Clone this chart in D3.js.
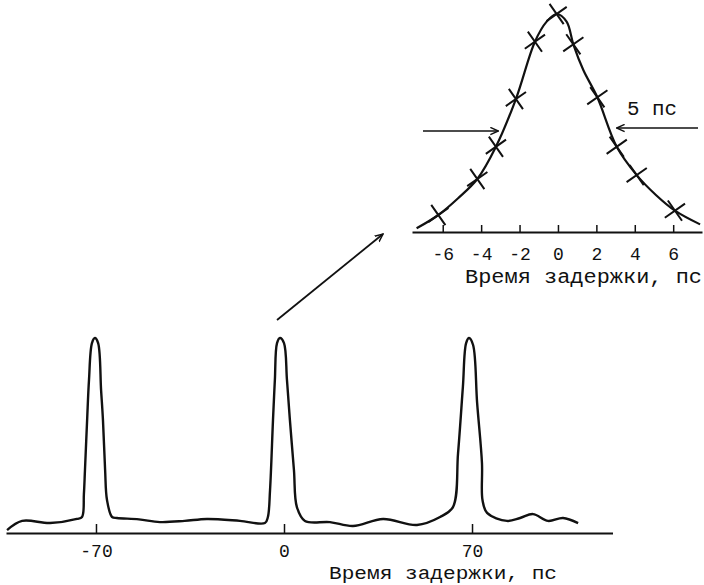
<!DOCTYPE html>
<html>
<head>
<meta charset="utf-8">
<script src="https://cdn.jsdelivr.net/npm/d3@7"></script>
<style>
  html, body { margin: 0; padding: 0; background: #fff; }
  svg { display: block; }
  text { font-family: "Liberation Mono", "DejaVu Sans Mono", monospace; fill: #111; }
</style>
</head>
<body>
<svg id="chart" width="704" height="585"></svg>
<script>
// ---------- Main trace (delay in ps, normalized signal) ----------
const mainT = [-103.1, -97.5, -87.1, -77.1, -75.2, -74.5, -74.1, -73.3, -72.6, -71.5, -70.4, -69.2, -68.1, -67.4, -66.6, -65.9, -64.0, -62.2,
  -54.0, -46.2, -37.0, -28.7, -16.4, -7.1, -6.0, -5.2, -4.1, -3.4, -2.6, -1.5, 0.0, 1.1, 2.2, 3.7, 4.8, 7.8,
  17.1, 25.7, 36.9, 49.5, 58.1, 62.9, 64.8, 66.6, 67.8, 68.9, 70.4, 71.9, 73.7, 73.9, 75.6, 83.0, 87.9, 92.7, 98.3, 103.9, 109.5];
const mainV = [0.015, 0.062, 0.051, 0.072, 0.082, 0.20, 0.323, 0.579, 0.785, 0.974, 1.0, 0.974, 0.733, 0.579, 0.323, 0.169, 0.082, 0.077,
  0.070, 0.056, 0.062, 0.072, 0.062, 0.051, 0.082, 0.22, 0.579, 0.785, 0.974, 1.0, 0.974, 0.785, 0.579, 0.323, 0.133, 0.062,
  0.056, 0.036, 0.072, 0.041, 0.082, 0.133, 0.41, 0.749, 0.974, 1.0, 0.964, 0.667, 0.359, 0.169, 0.103, 0.062, 0.077, 0.097, 0.062, 0.077, 0.051];
const mainTicks = [-70, 0, 70];
const mainTickLabels = ["-70", "0", "70"];

// ---------- Inset: peak detail ----------
const insetCurveT = [-7.36, -6.23, -5.2, -4.20, -3.23, -2.19, -1.20, -0.59, -0.07, 0.45, 0.80, 1.32, 2.05, 3.06, 4.10, 5.1, 6.09, 7.40];
const insetCurveV = [0.017, 0.078, 0.155, 0.243, 0.391, 0.610, 0.873, 0.965, 1.0, 0.965, 0.861, 0.743, 0.618, 0.391, 0.261, 0.170, 0.098, 0.035];
const markT = [-6.23, -4.20, -3.23, -2.19, -1.20, -0.07, 0.80, 2.05, 3.06, 4.10, 6.09];
const markV = [0.078, 0.243, 0.391, 0.610, 0.873, 1.0, 0.861, 0.618, 0.391, 0.261, 0.098];
const insetTicks = [-6, -4, -2, 0, 2, 4, 6];
const insetTickLabels = ["-6", "-4", "-2", "0", "2", "4", "6"];
const fwhmLabel = "5 пс";
const axisLabel = "Время задержки, пс";

const svg = d3.select("#chart");

svg.append("defs").append("marker")
  .attr("id", "arr").attr("viewBox", "0 0 10 10").attr("refX", 9).attr("refY", 5)
  .attr("markerWidth", 9).attr("markerHeight", 9).attr("markerUnits", "userSpaceOnUse")
  .attr("orient", "auto")
  .append("path").attr("d", "M0,1 L9,5 L0,9").attr("fill", "none").attr("stroke", "#111").attr("stroke-width", 1.6);

// ---------- Main chart ----------
const x = d3.scaleLinear().domain([-103.5, 122.3]).range([6, 612.5]);
const y = d3.scaleLinear().domain([0, 1]).range([533, 338]);

const mainAxis = d3.axisBottom(x).tickValues(mainTicks)
  .tickFormat((d, i) => mainTickLabels[i]).tickSizeInner(-9).tickSizeOuter(0).tickPadding(11);
const gm = svg.append("g").attr("transform", "translate(0,533)").call(mainAxis);
gm.select(".domain").attr("stroke", "#111").attr("stroke-width", 2);
gm.selectAll(".tick line").attr("stroke", "#111").attr("stroke-width", 1.5);
gm.selectAll(".tick text").attr("font-size", 18).attr("fill", "#111")
  .attr("font-family", "'Liberation Mono', monospace");

const mainData = mainT.map((t, i) => [t, mainV[i]]);
svg.append("path").datum(mainData)
  .attr("fill", "none").attr("stroke", "#111").attr("stroke-width", 2.4).attr("stroke-linejoin", "round")
  .attr("d", d3.line().x(d => x(d[0])).y(d => y(d[1])).curve(d3.curveCatmullRom.alpha(0.5)));

svg.append("text").attr("x", 329).attr("y", 579).attr("font-size", 18)
  .attr("textLength", 228).attr("lengthAdjust", "spacingAndGlyphs").text(axisLabel);

// pointer from central peak to inset
svg.append("line").attr("x1", x(-2.6)).attr("y1", 320).attr("x2", 383).attr("y2", 234)
  .attr("stroke", "#111").attr("stroke-width", 1.8).attr("marker-end", "url(#arr)");

// ---------- Inset ----------
const xi = d3.scaleLinear().domain([-7.6, 7.5]).range([412, 702]);
const yi = d3.scaleLinear().domain([0, 1]).range([232, 14]);

const insetAxis = d3.axisBottom(xi).tickValues(insetTicks)
  .tickFormat((d, i) => insetTickLabels[i]).tickSizeInner(-7).tickSizeOuter(0).tickPadding(15);
const gi = svg.append("g").attr("transform", "translate(0,232)").call(insetAxis);
gi.select(".domain").attr("stroke", "#111").attr("stroke-width", 2);
gi.selectAll(".tick line").attr("stroke", "#111").attr("stroke-width", 1.5);
gi.selectAll(".tick text").attr("font-size", 18).attr("fill", "#111")
  .attr("font-family", "'Liberation Mono', monospace");

const insetData = insetCurveT.map((t, i) => [t, insetCurveV[i]]);
svg.append("path").datum(insetData)
  .attr("fill", "none").attr("stroke", "#111").attr("stroke-width", 2.2)
  .attr("d", d3.line().x(d => xi(d[0])).y(d => yi(d[1])).curve(d3.curveCatmullRom.alpha(0.5)));

const sym = d3.symbol().type(d3.symbolTimes).size(200);
svg.append("g").selectAll("path").data(markT.map((t, i) => [t, markV[i]])).join("path")
  .attr("transform", d => `translate(${xi(d[0])},${yi(d[1])}) rotate(10)`)
  .attr("d", sym).attr("fill", "none").attr("stroke", "#111").attr("stroke-width", 2);

// FWHM arrows
svg.append("line").attr("x1", 423).attr("y1", 131).attr("x2", xi(-3.1)).attr("y2", 131)
  .attr("stroke", "#111").attr("stroke-width", 1.6).attr("marker-end", "url(#arr)");
svg.append("line").attr("x1", 698).attr("y1", 128).attr("x2", xi(3.05)).attr("y2", 128)
  .attr("stroke", "#111").attr("stroke-width", 1.6).attr("marker-end", "url(#arr)");
svg.append("text").attr("x", 627).attr("y", 115).attr("font-size", 21)
  .attr("textLength", 50).attr("lengthAdjust", "spacingAndGlyphs").text(fwhmLabel);

svg.append("text").attr("x", 465).attr("y", 283).attr("font-size", 20)
  .attr("textLength", 237).attr("lengthAdjust", "spacingAndGlyphs").text(axisLabel);
</script>
</body>
</html>
